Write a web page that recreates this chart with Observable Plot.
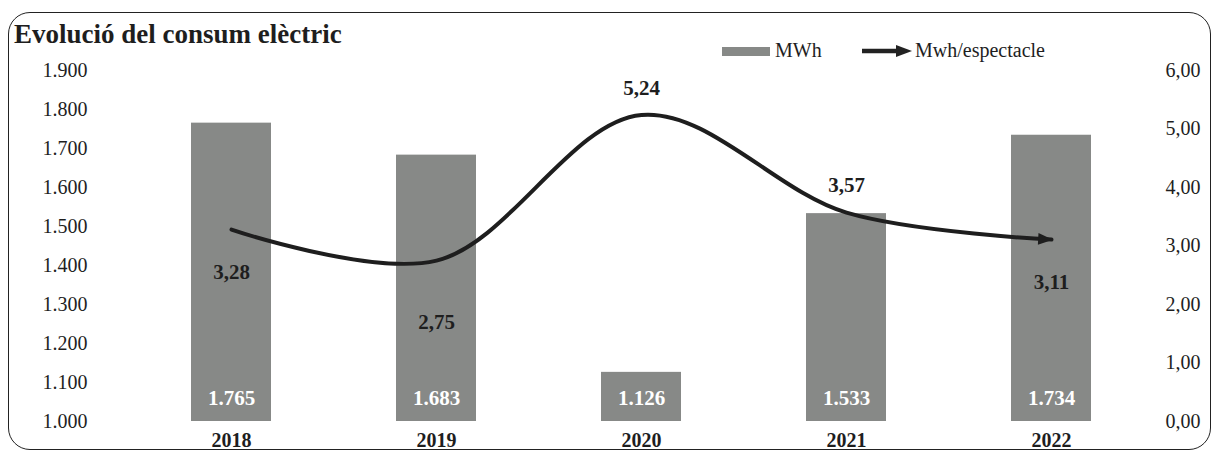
<!DOCTYPE html>
<html>
<head>
<meta charset="utf-8">
<script src="https://cdn.jsdelivr.net/npm/d3@7"></script>
<script src="https://cdn.jsdelivr.net/npm/@observablehq/plot@0.6"></script>
<style>
  html, body { margin: 0; padding: 0; background: #fff; }
  #wrap { position: relative; width: 1214px; height: 450px; overflow: hidden; font-family: "Liberation Serif", serif; color: #1e1e1e; }
  #frame { position: absolute; left: 8px; top: 12px; width: 1203px; height: 438px; box-sizing: border-box; border: 1.5px solid #222; border-radius: 22px; pointer-events: none; }
  #title { position: absolute; left: 14px; top: 21px; font-size: 27px; font-weight: bold; line-height: 1; white-space: nowrap; }
  .leg { position: absolute; font-size: 20px; line-height: 1; white-space: nowrap; }
  #chart { position: absolute; left: 0; top: 0; }
</style>
</head>
<body>
<div id="wrap">
  <div id="chart"></div>
  <div id="frame"></div>
  <div id="title">Evolució del consum elèctric</div>
  <div class="leg" style="left:722px; top:47px; width:48px; height:9px; background:#878987;"></div>
  <div class="leg" style="left:775px; top:40px;">MWh</div>
  <svg class="leg" style="left:860px; top:43px;" width="54" height="16">
    <line x1="2" y1="8" x2="40" y2="8" stroke="#222" stroke-width="4.5"/>
    <path d="M36,2 L52,8 L36,14 Z" fill="#222"/>
  </svg>
  <div class="leg" style="left:915px; top:40px;">Mwh/espectacle</div>
</div>
<script>
const years = ["2018", "2019", "2020", "2021", "2022"];
const mwh = [1765, 1683, 1126, 1533, 1734];
const mwhPerShow = [3.28, 2.75, 5.24, 3.57, 3.11];
const leftTicks = [1000, 1100, 1200, 1300, 1400, 1500, 1600, 1700, 1800, 1900];
const rightTicks = [0, 1, 2, 3, 4, 5, 6];

// right axis (0–6) mapped onto the left axis (1000–1900)
const toLeft = v => 1000 + v * 150;
const fromLeft = y => (y - 1000) / 150;

const data = years.map((year, i) => ({ year, mwh: mwh[i], v: mwhPerShow[i] }));
const minV = d3.min(mwhPerShow);
const fmtThousands = d => d3.format(",")(d).replace(/,/g, ".");
const fmtDec = d => d.toFixed(2).replace(".", ",");

const ink = "#1e1e1e";

const chart = Plot.plot({
  width: 1214,
  height: 450,
  marginLeft: 127,
  marginRight: 59,
  marginTop: 70,
  marginBottom: 29,
  style: { fontFamily: "Liberation Serif, serif", fontSize: "20px", color: ink, background: "transparent" },
  x: { domain: years, paddingInner: 0.61, paddingOuter: 0.305, label: null },
  y: { domain: [1000, 1900], label: null },
  marks: [
    Plot.barY(data, { x: "year", y1: 1000, y2: "mwh", fill: "#878987" }),
    Plot.axisY(leftTicks, { anchor: "left", tickSize: 0, tickPadding: 40, tickFormat: fmtThousands, label: null }),
    Plot.axisY(rightTicks.map(toLeft), { anchor: "right", tickSize: 0, tickPadding: 10, tickFormat: d => fmtDec(fromLeft(d)), label: null }),
    Plot.axisX({ tickSize: 0, tickPadding: 11, fontWeight: "bold", fontSize: 20, label: null }),
    Plot.text(data, { x: "year", y: 1000, dy: -23, text: d => fmtThousands(d.mwh), fill: "#fff", fontWeight: "bold", fontSize: 21 }),
    Plot.line(data, { x: "year", y: d => toLeft(d.v), curve: "catmull-rom", stroke: ink, strokeWidth: 4, markerEnd: "arrow" }),
    Plot.text(data.filter(d => d.v > 3.5), { x: "year", y: d => toLeft(d.v), dy: -27, text: d => fmtDec(d.v), fill: ink, fontWeight: "bold", fontSize: 21 }),
    Plot.text(data.filter(d => d.v <= 3.5 && d.v !== minV), { x: "year", y: d => toLeft(d.v), dy: 43, text: d => fmtDec(d.v), fill: ink, fontWeight: "bold", fontSize: 21 }),
    Plot.text(data.filter(d => d.v === minV), { x: "year", y: d => toLeft(d.v), dy: 62, text: d => fmtDec(d.v), fill: ink, fontWeight: "bold", fontSize: 21 })
  ]
});

// filled arrowhead instead of the open chevron
chart.querySelectorAll("marker").forEach(m => {
  m.setAttribute("overflow", "visible");
  m.setAttribute("fill", ink);
  m.setAttribute("stroke", "none");
  const p = m.querySelector("path");
  if (p) p.setAttribute("d", "M-5,-2.2L0.5,0L-5,2.2Z");
});

document.getElementById("chart").appendChild(chart);
</script>
</body>
</html>
